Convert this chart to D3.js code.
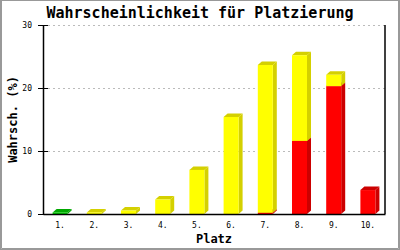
<!DOCTYPE html>
<html lang="de">
<head>
    <meta charset="utf-8">
    <title>Wahrscheinlichkeit für Platzierung</title>
    <style>
        body { margin: 0; background: #fff; }
        text { font-family: "DejaVu Sans Mono", monospace; }
        .grid line { stroke: #bbb; stroke-dasharray: 2,3; }
    </style>
</head>
<body>
<script src="https://cdn.jsdelivr.net/npm/d3@7"></script>
<script>
    var places = ["1.", "2.", "3.", "4.", "5.", "6.", "7.", "8.", "9.", "10."];
    var redVals    = [0, 0, 0, 0, 0, 0, 0.2, 11.6, 20.3, 3.8];
    var yellowVals = [0, 0.25, 0.55, 2.3, 7.0, 15.4, 23.45, 13.6, 1.8, 0];
    var greenVals  = [0.25, 0, 0, 0, 0, 0, 0, 0, 0, 0];
    var yTicks = [0, 10, 20, 30];

    var series = [
        {key: "red", vals: redVals, front: "#ff0000", side: "#cc0000"},
        {key: "yellow", vals: yellowVals, front: "#ffff00", side: "#d4d000"},
        {key: "green", vals: greenVals, front: "#00cc00", side: "#00a800"}
    ];

    var W = 400, H = 250;
    var margin = {top: 25, right: 15, bottom: 36, left: 43},
        width = W - margin.left - margin.right,
        height = H - margin.top - margin.bottom;
    var depthX = 4, depthY = 3.5;

    var x = d3.scaleBand().domain(places).range([0, width]);
    var y = d3.scaleLinear().domain([0, 30]).range([height, 0]);

    var svg = d3.select("body").append("svg")
        .attr("width", W).attr("height", H);

    // frame
    svg.append("rect").attr("x", 0.5).attr("y", 0.5).attr("width", W - 1).attr("height", H - 1)
        .attr("fill", "none").attr("stroke", "#999");
    svg.append("path").attr("d", "M1.5,0V248.5H398.5V0").attr("fill", "none").attr("stroke", "#999");

    svg.append("text").attr("x", 200).attr("y", 18).attr("text-anchor", "middle")
        .style("font-size", "15px").style("font-weight", "bold").text("Wahrscheinlichkeit für Platzierung");

    var g = svg.append("g").attr("transform", "translate(" + margin.left + "," + margin.top + ")");

    // grid
    g.append("g").attr("class", "grid").selectAll("line")
        .data(yTicks.filter(function(d) { return d > 0; }))
        .enter().append("line")
        .attr("x1", 5).attr("x2", width)
        .attr("y1", function(d) { return Math.round(y(d)) + 0.5; })
        .attr("y2", function(d) { return Math.round(y(d)) + 0.5; });

    // stacked 3d bars
    var stack = places.map(function() { return 0; });
    var bw = 15;
    series.forEach(function(s) {
        places.forEach(function(p, i) {
            var v = s.vals[i];
            if (!v) return;
            var x0 = x(p) + x.bandwidth() / 2 - bw / 2, x1 = x0 + bw;
            var yb = y(stack[i]), yt = y(stack[i] + v);
            stack[i] += v;
            // side
            g.append("path").attr("fill", s.side)
                .attr("d", "M" + x1 + "," + yb + "L" + (x1 + depthX) + "," + (yb - depthY) +
                    "L" + (x1 + depthX) + "," + (yt - depthY) + "L" + x1 + "," + yt + "Z");
            // top
            g.append("path").attr("fill", s.side)
                .attr("d", "M" + x0 + "," + yt + "L" + (x0 + depthX) + "," + (yt - depthY) +
                    "L" + (x1 + depthX) + "," + (yt - depthY) + "L" + x1 + "," + yt + "Z");
            // front
            g.append("rect").attr("fill", s.front)
                .attr("x", x0).attr("y", yt).attr("width", bw).attr("height", Math.max(0, yb - yt));
        });
    });

    // axes
    var left = g.append("g")
        .call(d3.axisLeft(y).tickValues(yTicks).tickSize(5).tickSizeOuter(0).tickFormat(d3.format("d")));
    left.selectAll(".tick line").attr("x2", 5).attr("x1", -5);
    left.selectAll("text").attr("x", -11).style("font-size", "8px");
    left.select(".domain").attr("stroke-width", 1.5);

    g.append("line").attr("x1", width).attr("x2", width).attr("y1", 0).attr("y2", height)
        .attr("stroke", "#000").attr("stroke-width", 1.5);

    var bottom = g.append("g").attr("transform", "translate(0," + height + ")")
        .call(d3.axisBottom(x).tickSize(0).tickPadding(8));
    bottom.select(".domain").attr("stroke-width", 1.5);
    bottom.selectAll("text").style("font-size", "8px");

    svg.append("text").attr("x", margin.left + width / 2).attr("y", 243).attr("text-anchor", "middle")
        .style("font-size", "12px").style("font-weight", "bold").text("Platz");
    svg.append("text").attr("transform", "translate(17," + (margin.top + height / 2) + ") rotate(-90)")
        .attr("text-anchor", "middle")
        .style("font-size", "12px").style("font-weight", "bold").text("Wahrsch. (%)");
</script>
</body>
</html>
